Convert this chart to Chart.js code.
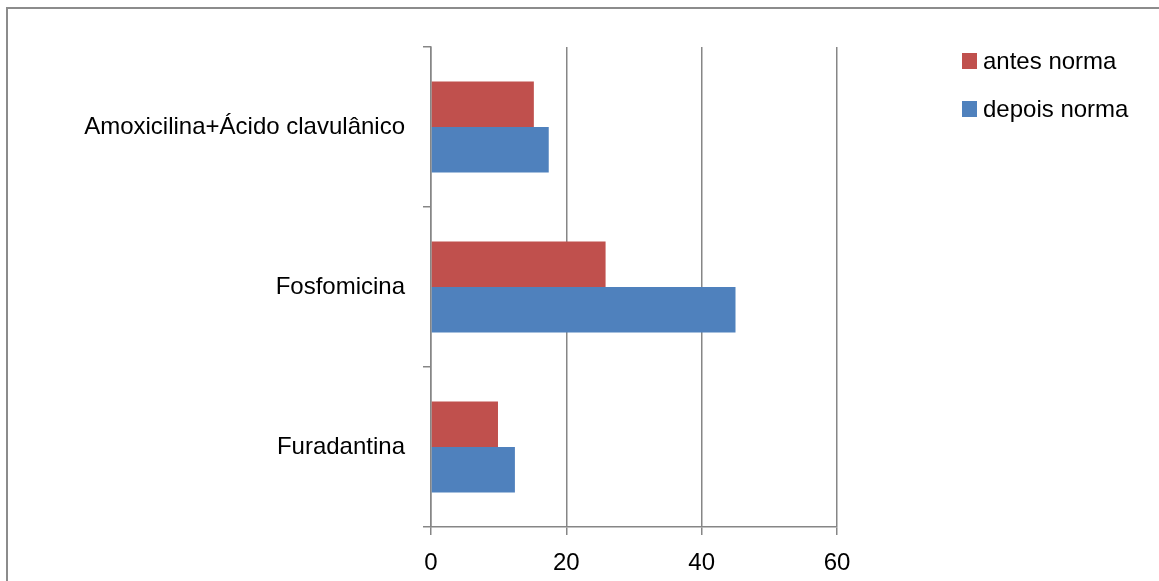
<!DOCTYPE html>
<html>
<head>
<meta charset="utf-8">
<script src="https://cdn.jsdelivr.net/npm/chart.js@4"></script>
<style>
    body { margin: 0; background: #fff; overflow: hidden; }
    #frame { position: absolute; left: 6px; top: 7px; width: 1200px; height: 600px;
             border-left: 2px solid #8c8c8c; border-top: 2px solid #8c8c8c; }
    #wrap { position: absolute; left: 0; top: 0; width: 1159px; height: 581px; }
</style>
</head>
<body>
<div id="frame"></div>
<div id="wrap"><canvas id="drug_chart"></canvas></div>
<script>
    var categories = ['Amoxicilina+Ácido clavulânico', 'Fosfomicina', 'Furadantina'];
    var antesNorma = [15.2, 25.8, 9.9];
    var depoisNorma = [17.4, 45.0, 12.4];
    var xTicks = [0, 20, 40, 60];

    var axisGray = '#868686';
    var fontFamily = '"Liberation Sans", Arial, sans-serif';

    Chart.defaults.color = '#000';
    Chart.defaults.font.family = fontFamily;
    Chart.defaults.font.size = 24;

    // legend drawn at the side, like the original
    var sideLegend = {
        id: 'sideLegend',
        afterDraw: function (chart) {
            var ctx = chart.ctx;
            ctx.save();
            ctx.font = '24px ' + fontFamily;
            ctx.textBaseline = 'middle';
            chart.data.datasets.forEach(function (ds, i) {
                var y = 61 + i * 48;
                ctx.fillStyle = ds.backgroundColor;
                ctx.fillRect(962, y - 8, 15, 16);
                ctx.fillStyle = '#000';
                ctx.fillText(ds.label, 983, y + 1);
            });
            ctx.restore();
        }
    };

    var chart = new Chart(document.getElementById('drug_chart'), {
        type: 'bar',
        data: {
            labels: categories,
            datasets: [
                { label: 'antes norma', data: antesNorma, backgroundColor: '#C0504D' },
                { label: 'depois norma', data: depoisNorma, backgroundColor: '#4F81BD' }
            ]
        },
        options: {
            indexAxis: 'y',
            responsive: true,
            maintainAspectRatio: false,
            animation: false,
            categoryPercentage: 0.57,
            barPercentage: 1,
            layout: { padding: { top: 47, right: 322, bottom: 0, left: 0 } },
            plugins: {
                legend: { display: false },
                tooltip: { enabled: false }
            },
            scales: {
                x: {
                    min: 0,
                    max: 60,
                    afterBuildTicks: function (scale) {
                        scale.ticks = xTicks.map(function (v) { return { value: v }; });
                    },
                    afterFit: function (scale) { scale.height = 54; },
                    grid: { color: axisGray, lineWidth: 1.5, tickLength: 8 },
                    border: { color: axisGray, width: 1.5 },
                    ticks: { padding: 14 }
                },
                y: {
                    afterFit: function (scale) { scale.width = 431; },
                    grid: { color: axisGray, lineWidth: 1.5, tickLength: 8, drawOnChartArea: false, offset: true },
                    border: { color: axisGray, width: 1.5 },
                    ticks: { padding: 18 }
                }
            }
        },
        plugins: [sideLegend]
    });
</script>
</body>
</html>
